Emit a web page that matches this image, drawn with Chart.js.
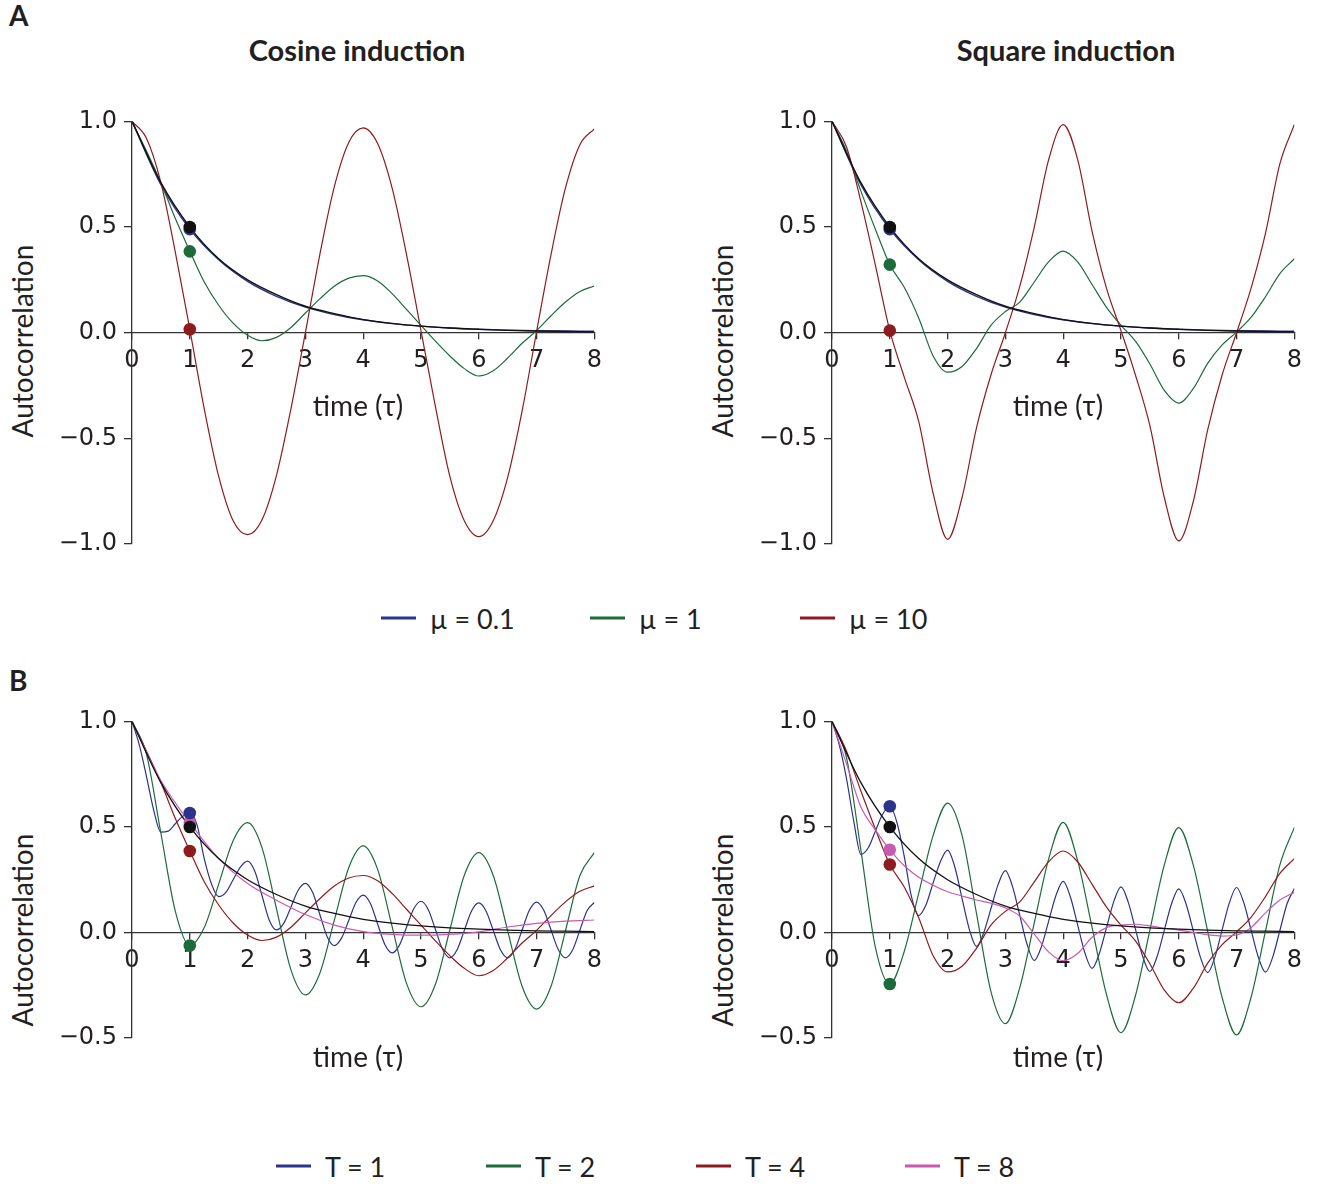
<!DOCTYPE html>
<html>
<head>
<meta charset="utf-8">
<script src="https://cdn.jsdelivr.net/npm/chart.js@4.4.0/dist/chart.umd.min.js"></script>
<style>
  body { margin:0; background:#fff; width:1317px; height:1184px; position:relative; overflow:hidden;
         font-family: Lato, 'Open Sans', sans-serif; color:#231f20 }
  canvas { position:absolute }
  .t { position:absolute; white-space:nowrap; transform:translate(-50%,-50%) }
  .letter { position:absolute; font-weight:bold; font-size:28px; left:9px }
  .title { font-weight:bold; font-size:29px }
  .xt { font-size:28px }
  .yt { font-size:28px; transform:translate(-50%,-50%) rotate(-90deg) }
  .leg { position:absolute; display:flex; align-items:center; font-size:27px; transform:translateY(-50%) }
  .leg i { display:inline-block; width:35px; height:3px; margin-right:14px }
</style>
</head>
<body>

<div class="letter" style="top:-2px">A</div>
<div class="letter" style="top:663px">B</div>

<div class="t title" style="left:357px;top:49px">Cosine induction</div>
<div class="t title" style="left:1066px;top:49px">Square induction</div>

<canvas id="cA1" width="550" height="470" style="left:60px;top:100px"></canvas>
<canvas id="cA2" width="550" height="470" style="left:760px;top:100px"></canvas>
<canvas id="cB1" width="550" height="360" style="left:60px;top:700px"></canvas>
<canvas id="cB2" width="550" height="360" style="left:760px;top:700px"></canvas>

<div class="t yt" style="left:22px;top:341px">Autocorrelation</div>
<div class="t yt" style="left:722px;top:341px">Autocorrelation</div>
<div class="t yt" style="left:22px;top:930px">Autocorrelation</div>
<div class="t yt" style="left:722px;top:930px">Autocorrelation</div>

<div class="t xt" style="left:358px;top:405px">time (τ)</div>
<div class="t xt" style="left:1058px;top:405px">time (τ)</div>
<div class="t xt" style="left:358px;top:1056px">time (τ)</div>
<div class="t xt" style="left:1058px;top:1056px">time (τ)</div>

<div class="leg" style="left:381px;top:618px"><i style="background:#2b338a"></i>µ = 0.1</div>
<div class="leg" style="left:590px;top:618px"><i style="background:#1d6b3b"></i>µ = 1</div>
<div class="leg" style="left:800px;top:618px"><i style="background:#8e1b1e"></i>µ = 10</div>

<div class="leg" style="left:276px;top:1166px"><i style="background:#2b338a"></i>T = 1</div>
<div class="leg" style="left:486px;top:1166px"><i style="background:#1d6b3b"></i>T = 2</div>
<div class="leg" style="left:696px;top:1166px"><i style="background:#8e1b1e"></i>T = 4</div>
<div class="leg" style="left:905px;top:1166px"><i style="background:#c85bb0"></i>T = 8</div>

<script>
// ---------------------------------------------
// sample times
// ---------------------------------------------
const tHalf = [0,0.5,1,1.5,2,2.5,3,3.5,4,4.5,5,5.5,6,6.5,7,7.5,8]
const tQuarter = [0,0.25,0.5,0.75,1,1.25,1.5,1.75,2,2.25,2.5,2.75,3,3.25,3.5,3.75,4,
                  4.25,4.5,4.75,5,5.25,5.5,5.75,6,6.25,6.5,6.75,7,7.25,7.5,7.75,8]
const tEighth = [0,0.125,0.25,0.375,0.5,0.625,0.75,0.875,1,1.125,1.25,1.375,1.5,1.625,1.75,1.875,
                 2,2.125,2.25,2.375,2.5,2.625,2.75,2.875,3,3.125,3.25,3.375,3.5,3.625,3.75,3.875,
                 4,4.125,4.25,4.375,4.5,4.625,4.75,4.875,5,5.125,5.25,5.375,5.5,5.625,5.75,5.875,
                 6,6.125,6.25,6.375,6.5,6.625,6.75,6.875,7,7.125,7.25,7.375,7.5,7.625,7.75,7.875,8]
const xTicks = [0,1,2,3,4,5,6,7,8]

// ---------------------------------------------
// curves shared by several panels
// ---------------------------------------------
// black reference decay (all panels)
const decay = [1.0,0.71,0.50,0.35,0.25,0.18,0.125,0.09,0.062,0.044,0.031,0.022,0.016,0.011,0.008,0.006,0.004]
// mu = 0.1 (almost on top of the black one)
const muLow = [1.0,0.70,0.49,0.345,0.243,0.172,0.121,0.086,0.061,0.043,0.031,0.022,0.016,0.012,0.009,0.008,0.007]

// cosine: mu = 1 in A, same curve is T = 4 in B
const cosMid = [1.0,0.86,0.71,0.54,0.386,0.24,0.13,0.045,-0.012,-0.038,-0.022,0.025,0.093,0.16,0.22,0.258,0.27,
                0.245,0.185,0.11,0.035,-0.04,-0.11,-0.17,-0.205,-0.18,-0.12,-0.05,0.01,0.08,0.145,0.195,0.221]
// cosine mu = 10
const cosHigh = [1.0,0.92,0.71,0.38,0.016,-0.36,-0.68,-0.89,-0.956,-0.885,-0.675,-0.36,0.0,0.37,0.69,0.9,0.969,
                 0.895,0.685,0.37,0.01,-0.35,-0.68,-0.89,-0.965,-0.89,-0.685,-0.37,0.005,0.37,0.685,0.89,0.965]

// square: mu = 1 in A, same curve is T = 4 in B
const sqMid = [1.0,0.86,0.67,0.49,0.322,0.215,0.07,-0.11,-0.187,-0.16,-0.075,0.035,0.10,0.145,0.24,0.336,0.386,
               0.335,0.228,0.12,0.035,-0.04,-0.148,-0.273,-0.333,-0.265,-0.145,-0.058,0.003,0.072,0.17,0.28,0.35]
// square mu = 10
const sqHigh = [1.0,0.88,0.62,0.32,0.01,-0.21,-0.42,-0.76,-0.978,-0.78,-0.45,-0.2,0.0,0.22,0.5,0.82,0.985,
                0.82,0.48,0.21,0.01,-0.2,-0.44,-0.78,-0.985,-0.8,-0.46,-0.2,0.0,0.21,0.47,0.8,0.985]

// ---------------------------------------------
// panel B only
// ---------------------------------------------
const cosT1 = [1.0,0.89,0.74,0.58,0.475,0.48,0.515,0.55,0.565,0.51,0.35,0.23,0.17,0.19,0.25,0.31,
               0.338,0.29,0.174,0.058,0.012,0.043,0.12,0.2,0.233,0.19,0.085,-0.019,-0.062,-0.027,0.057,0.142,
               0.177,0.137,0.04,-0.057,-0.097,-0.061,0.025,0.112,0.148,0.109,0.014,-0.081,-0.12,-0.082,0.01,0.102,
               0.14,0.102,0.01,-0.082,-0.12,-0.081,0.012,0.105,0.144,0.105,0.012,-0.081,-0.12,-0.082,0.011,0.104,0.142]
const cosT2 = [1.0,0.845,0.47,0.1,-0.062,0.023,0.229,0.435,0.52,0.401,0.112,-0.177,-0.296,-0.193,0.057,0.307,0.41,
               0.299,0.029,-0.241,-0.352,-0.245,0.013,0.271,0.378,0.27,0.008,-0.255,-0.363,-0.255,0.008,0.27,0.378]
const cosT8 = [1.0,0.72,0.52,0.35,0.232,0.153,0.085,0.035,0.004,-0.009,-0.013,-0.009,0.003,0.026,0.043,0.054,0.059]

const sqT1 = [1.0,0.89,0.73,0.53,0.37,0.40,0.48,0.56,0.598,0.52,0.36,0.17,0.08,0.13,0.235,0.335,
              0.39,0.31,0.162,0.016,-0.066,-0.001,0.113,0.228,0.293,0.216,0.08,-0.056,-0.133,-0.066,0.055,0.175,
              0.242,0.168,0.036,-0.096,-0.17,-0.1,0.023,0.146,0.216,0.144,0.016,-0.113,-0.185,-0.114,0.011,0.136,
              0.207,0.136,0.009,-0.118,-0.19,-0.117,0.012,0.14,0.213,0.141,0.012,-0.116,-0.188,-0.117,0.01,0.137,0.208]
const sqT2 = [1.0,0.83,0.39,-0.07,-0.244,-0.09,0.185,0.46,0.613,0.46,0.09,-0.28,-0.432,-0.26,0.045,0.35,0.522,
              0.34,0.024,-0.295,-0.475,-0.3,0.011,0.32,0.497,0.32,0.006,-0.308,-0.485,-0.308,0.006,0.32,0.498]
const sqT8 = [1.0,0.80,0.594,0.486,0.392,0.316,0.262,0.224,0.193,0.173,0.154,0.139,0.116,0.077,-0.008,-0.093,-0.134,
              -0.1,-0.023,0.023,0.035,0.039,0.031,0.02,0.011,0.0,-0.011,-0.017,-0.012,0.023,0.093,0.154,0.19]

// values of the dots at t = 1
const dotsCosA = { black:0.5, blue:0.49, green:0.385, red:0.016 }
const dotsSqA  = { black:0.5, blue:0.49, green:0.322, red:0.01 }
const dotsCosB = { black:0.5, blue:0.566, green:-0.062, red:0.386, pink:0.52 }
const dotsSqB  = { black:0.5, blue:0.598, green:-0.244, red:0.322, pink:0.392 }

// ---------------------------------------------
// stili
// ---------------------------------------------
const COL = { black:'#111111', blue:'#2b338a', green:'#1d6b3b', red:'#8e1b1e', pink:'#c85bb0' }
const AXIS = '#333333'
const TICKFONT = { family:'DejaVu Sans', size:24 }

function line(t, y, color, w) {
  return {
    data: t.map((x,i) => ({ x, y: y[i] })),
    borderColor: color, borderWidth: w || 1.2,
    pointRadius: 0, fill: false, cubicInterpolationMode: 'monotone'
  }
}
function dot(y, color) {
  return {
    data: [{ x:1, y }], showLine:false,
    pointRadius:6.3, pointHoverRadius:6.3, pointBorderWidth:0,
    pointBackgroundColor: color, borderColor: color
  }
}
const fmt = v => (v < 0 ? '\u2212' : '') + Math.abs(v).toFixed(1)

function panel(id, yMin, pad, datasets) {
  new Chart(document.getElementById(id), {
    type: 'line',
    data: { datasets },
    options: {
      responsive:false, animation:false, events:[],
      layout: { padding: pad },
      plugins: { legend:{display:false}, tooltip:{enabled:false} },
      scales: {
        x: {
          type:'linear', min:0, max:8, position:{ y:0 },
          afterBuildTicks: s => { s.ticks = xTicks.map(v => ({ value:v })) },
          ticks: { font:TICKFONT, color:'#231f20', padding:8, maxRotation:0, callback: v => String(v) },
          grid: { drawOnChartArea:false, drawTicks:true, tickLength:6, color:AXIS, lineWidth:1.3 },
          border: { display:true, color:AXIS, width:1.3 }
        },
        y: {
          type:'linear', min:yMin, max:1, position:'left',
          afterFit: s => { s.width = 72 },
          ticks: { stepSize:0.5, font:TICKFONT, color:'#231f20', padding:7, callback: fmt },
          grid: { drawOnChartArea:false, drawTicks:true, tickLength:8, color:AXIS, lineWidth:1.3 },
          border: { display:true, color:AXIS, width:1.3 }
        }
      }
    }
  })
}

const padA = { top:19, right:14, bottom:26, left:0 }
const padB = { top:14, right:14, bottom:22, left:0 }

// il primo dataset viene disegnato sopra
panel('cA1', -1, padA, [
  dot(dotsCosA.black, COL.black), dot(dotsCosA.red, COL.red), dot(dotsCosA.green, COL.green), dot(dotsCosA.blue, COL.blue),
  line(tHalf, decay, COL.black, 1.4),
  line(tQuarter, cosHigh, COL.red),
  line(tQuarter, cosMid, COL.green),
  line(tHalf, muLow, COL.blue, 1.4)
])
panel('cA2', -1, padA, [
  dot(dotsSqA.black, COL.black), dot(dotsSqA.red, COL.red), dot(dotsSqA.green, COL.green), dot(dotsSqA.blue, COL.blue),
  line(tHalf, decay, COL.black, 1.4),
  line(tQuarter, sqHigh, COL.red),
  line(tQuarter, sqMid, COL.green),
  line(tHalf, muLow, COL.blue, 1.4)
])
panel('cB1', -0.5, padB, [
  dot(dotsCosB.black, COL.black), dot(dotsCosB.red, COL.red), dot(dotsCosB.green, COL.green),
  dot(dotsCosB.blue, COL.blue), dot(dotsCosB.pink, COL.pink),
  line(tHalf, decay, COL.black, 1.3),
  line(tHalf, cosT8, COL.pink),
  line(tQuarter, cosMid, COL.red),
  line(tQuarter, cosT2, COL.green),
  line(tEighth, cosT1, COL.blue)
])
panel('cB2', -0.5, padB, [
  dot(dotsSqB.black, COL.black), dot(dotsSqB.red, COL.red), dot(dotsSqB.pink, COL.pink),
  dot(dotsSqB.green, COL.green), dot(dotsSqB.blue, COL.blue),
  line(tHalf, decay, COL.black, 1.3),
  line(tQuarter, sqT8, COL.pink),
  line(tQuarter, sqMid, COL.red),
  line(tQuarter, sqT2, COL.green),
  line(tEighth, sqT1, COL.blue)
])
</script>
</body>
</html>
